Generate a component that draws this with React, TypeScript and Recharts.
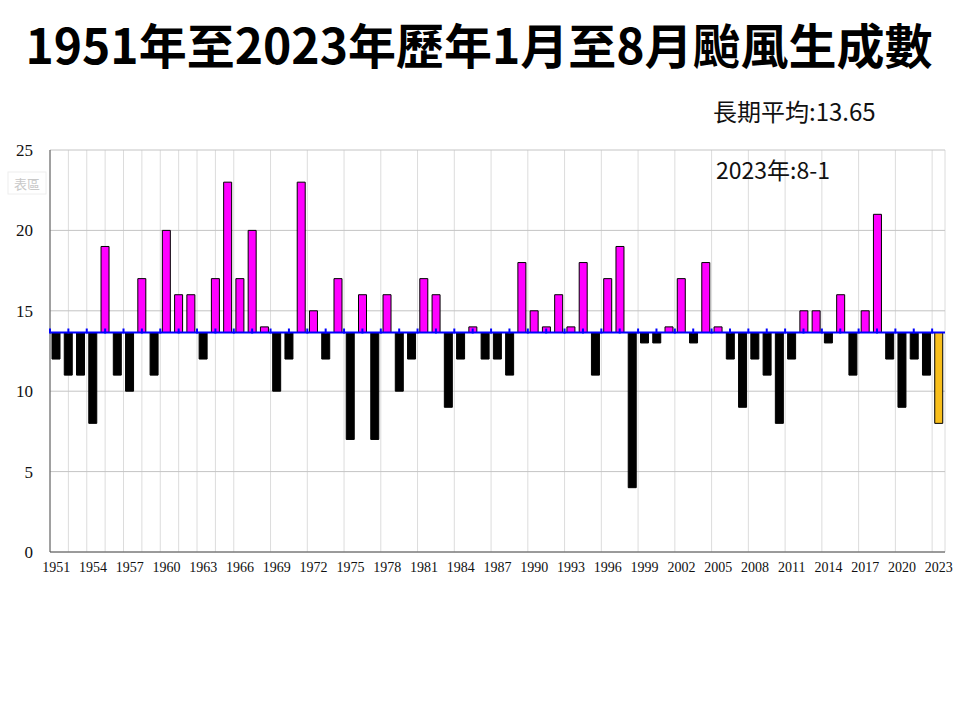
import React from "react";
import {
  ComposedChart,
  Bar,
  Scatter,
  XAxis,
  YAxis,
  CartesianGrid,
  ReferenceLine,
  Cell,
} from "recharts";

// ─── Data ────────────────────────────────────────────────────────────────────

const YEARS = [
  1951, 1952, 1953, 1954, 1955, 1956, 1957, 1958, 1959, 1960,
  1961, 1962, 1963, 1964, 1965, 1966, 1967, 1968, 1969, 1970,
  1971, 1972, 1973, 1974, 1975, 1976, 1977, 1978, 1979, 1980,
  1981, 1982, 1983, 1984, 1985, 1986, 1987, 1988, 1989, 1990,
  1991, 1992, 1993, 1994, 1995, 1996, 1997, 1998, 1999, 2000,
  2001, 2002, 2003, 2004, 2005, 2006, 2007, 2008, 2009, 2010,
  2011, 2012, 2013, 2014, 2015, 2016, 2017, 2018, 2019, 2020,
  2021, 2022, 2023,
];

const COUNTS = [
  12, 11, 11, 8, 19, 11, 10, 17, 11, 20,
  16, 16, 12, 17, 23, 17, 20, 14, 10, 12,
  23, 15, 12, 17, 7, 16, 7, 16, 10, 12,
  17, 16, 9, 12, 14, 12, 12, 11, 18, 15,
  14, 16, 14, 18, 11, 17, 19, 4, 13, 13,
  14, 17, 13, 18, 14, 12, 9, 12, 11, 8,
  12, 15, 15, 13, 16, 11, 15, 21, 12, 9,
  12, 11, 8,
];

const LONG_TERM_AVG = 13.65;
const CURRENT_YEAR = 2023;
const Y_TICKS = [0, 5, 10, 15, 20, 25];
// the vertical gridlines / blue markers of the original sit on their own scale
const GRID_SLOTS = [
  0, 1, 2, 3, 4, 5, 6, 7, 8, 9, 10, 11, 12, 13, 14, 15, 16, 17, 18, 19, 20,
  21, 22, 23, 24, 25, 26, 27, 28, 29, 30, 31, 32, 33, 34, 35, 36, 37, 38, 39,
  40, 41, 42, 43, 44, 45, 46, 47, 48,
];

const TITLE = "1951年至2023年歷年1月至8月颱風生成數";
const AVG_LABEL = "長期平均:13.65";
const CURRENT_LABEL = "2023年:8-1";

// ─── Styles ──────────────────────────────────────────────────────────────────

const ABOVE = "#FF00FF";
const BELOW = "#000000";
const CURRENT = "#F8BE1A";
const AVG_LINE = "#0000FF";
const SERIF = "'Liberation Serif', 'DejaVu Serif', serif";
const CJK = "'Noto Sans CJK TC', 'Noto Sans', sans-serif";

const rows = YEARS.map((year, i) => ({
  year: String(year),
  count: COUNTS[i],
  range: [Math.min(COUNTS[i], LONG_TERM_AVG), Math.max(COUNTS[i], LONG_TERM_AVG)],
}));

const avgMarks = GRID_SLOTS.map((g) => ({ g, avg: LONG_TERM_AVG }));

function barColor(year: string, count: number) {
  if (Number(year) === CURRENT_YEAR) return CURRENT;
  return count >= LONG_TERM_AVG ? ABOVE : BELOW;
}

const AvgTick = (props: any) => {
  const { cx, cy } = props;
  if (cx == null || cy == null) return null;
  return <line x1={cx} x2={cx} y1={cy - 4} y2={cy + 1} stroke={AVG_LINE} strokeWidth={2} />;
};

// ─── App ─────────────────────────────────────────────────────────────────────

export default function App() {
  return (
    <div style={{ position: "absolute", left: 0, top: 0, width: 960, height: 720, background: "#fff" }}>
      <ComposedChart
        width={960}
        height={600}
        data={rows}
        margin={{ top: 150, right: 15, bottom: 18, left: 0 }}
        barCategoryGap={0}
      >
        <CartesianGrid xAxisId="grid" vertical horizontal={false} stroke="#dcdcdc" />
        <CartesianGrid xAxisId="grid" vertical={false} stroke="#c4c4c4" />
        <XAxis
          xAxisId="grid"
          dataKey="g"
          type="number"
          domain={[0, 48.7]}
          ticks={GRID_SLOTS}
          hide
        />
        <XAxis
          dataKey="year"
          interval={2}
          tickLine={false}
          height={30}
          tickMargin={4}
          axisLine={{ stroke: "#555" }}
          tick={{ fontFamily: SERIF, fontSize: 14, fill: "#111" }}
        />
        <YAxis
          domain={[0, 25]}
          ticks={Y_TICKS}
          width={50}
          tickLine={false}
          tickMargin={11}
          axisLine={{ stroke: "#555" }}
          tick={{ fontFamily: SERIF, fontSize: 17, fill: "#111" }}
        />
        <YAxis
          yAxisId="right"
          orientation="right"
          domain={[0, 25]}
          width={0}
          tick={false}
          tickLine={false}
          axisLine={{ stroke: "#999" }}
        />
        <Bar dataKey="range" barSize={8} stroke="#000" strokeWidth={1} isAnimationActive={false}>
          {rows.map((r) => (
            <Cell key={r.year} fill={barColor(r.year, r.count)} />
          ))}
        </Bar>
        <ReferenceLine y={LONG_TERM_AVG} stroke={AVG_LINE} strokeWidth={2} />
        <Scatter
          xAxisId="grid"
          data={avgMarks}
          dataKey="avg"
          shape={AvgTick}
          isAnimationActive={false}
        />
      </ComposedChart>

      <svg
        width={960}
        height={720}
        style={{ position: "absolute", left: 0, top: 0, pointerEvents: "none" }}
      >
        <text
          x={479}
          y={64}
          textAnchor="middle"
          fontFamily={CJK}
          fontWeight="bold"
          fontSize={48}
          fill="#000"
        >
          {TITLE}
        </text>
        <text x={713} y={121} fontFamily={CJK} fontSize={24} fill="#111">
          {AVG_LABEL}
        </text>
        <text x={716} y={179} fontFamily={CJK} fontSize={23} fill="#111">
          {CURRENT_LABEL}
        </text>
        <rect x={8} y={172} width={38} height={22} fill="#fff" stroke="#eee" />
        <text x={27} y={189} textAnchor="middle" fontFamily={CJK} fontSize={13} fill="#c8c8c8">
          表區
        </text>
      </svg>
    </div>
  );
}
